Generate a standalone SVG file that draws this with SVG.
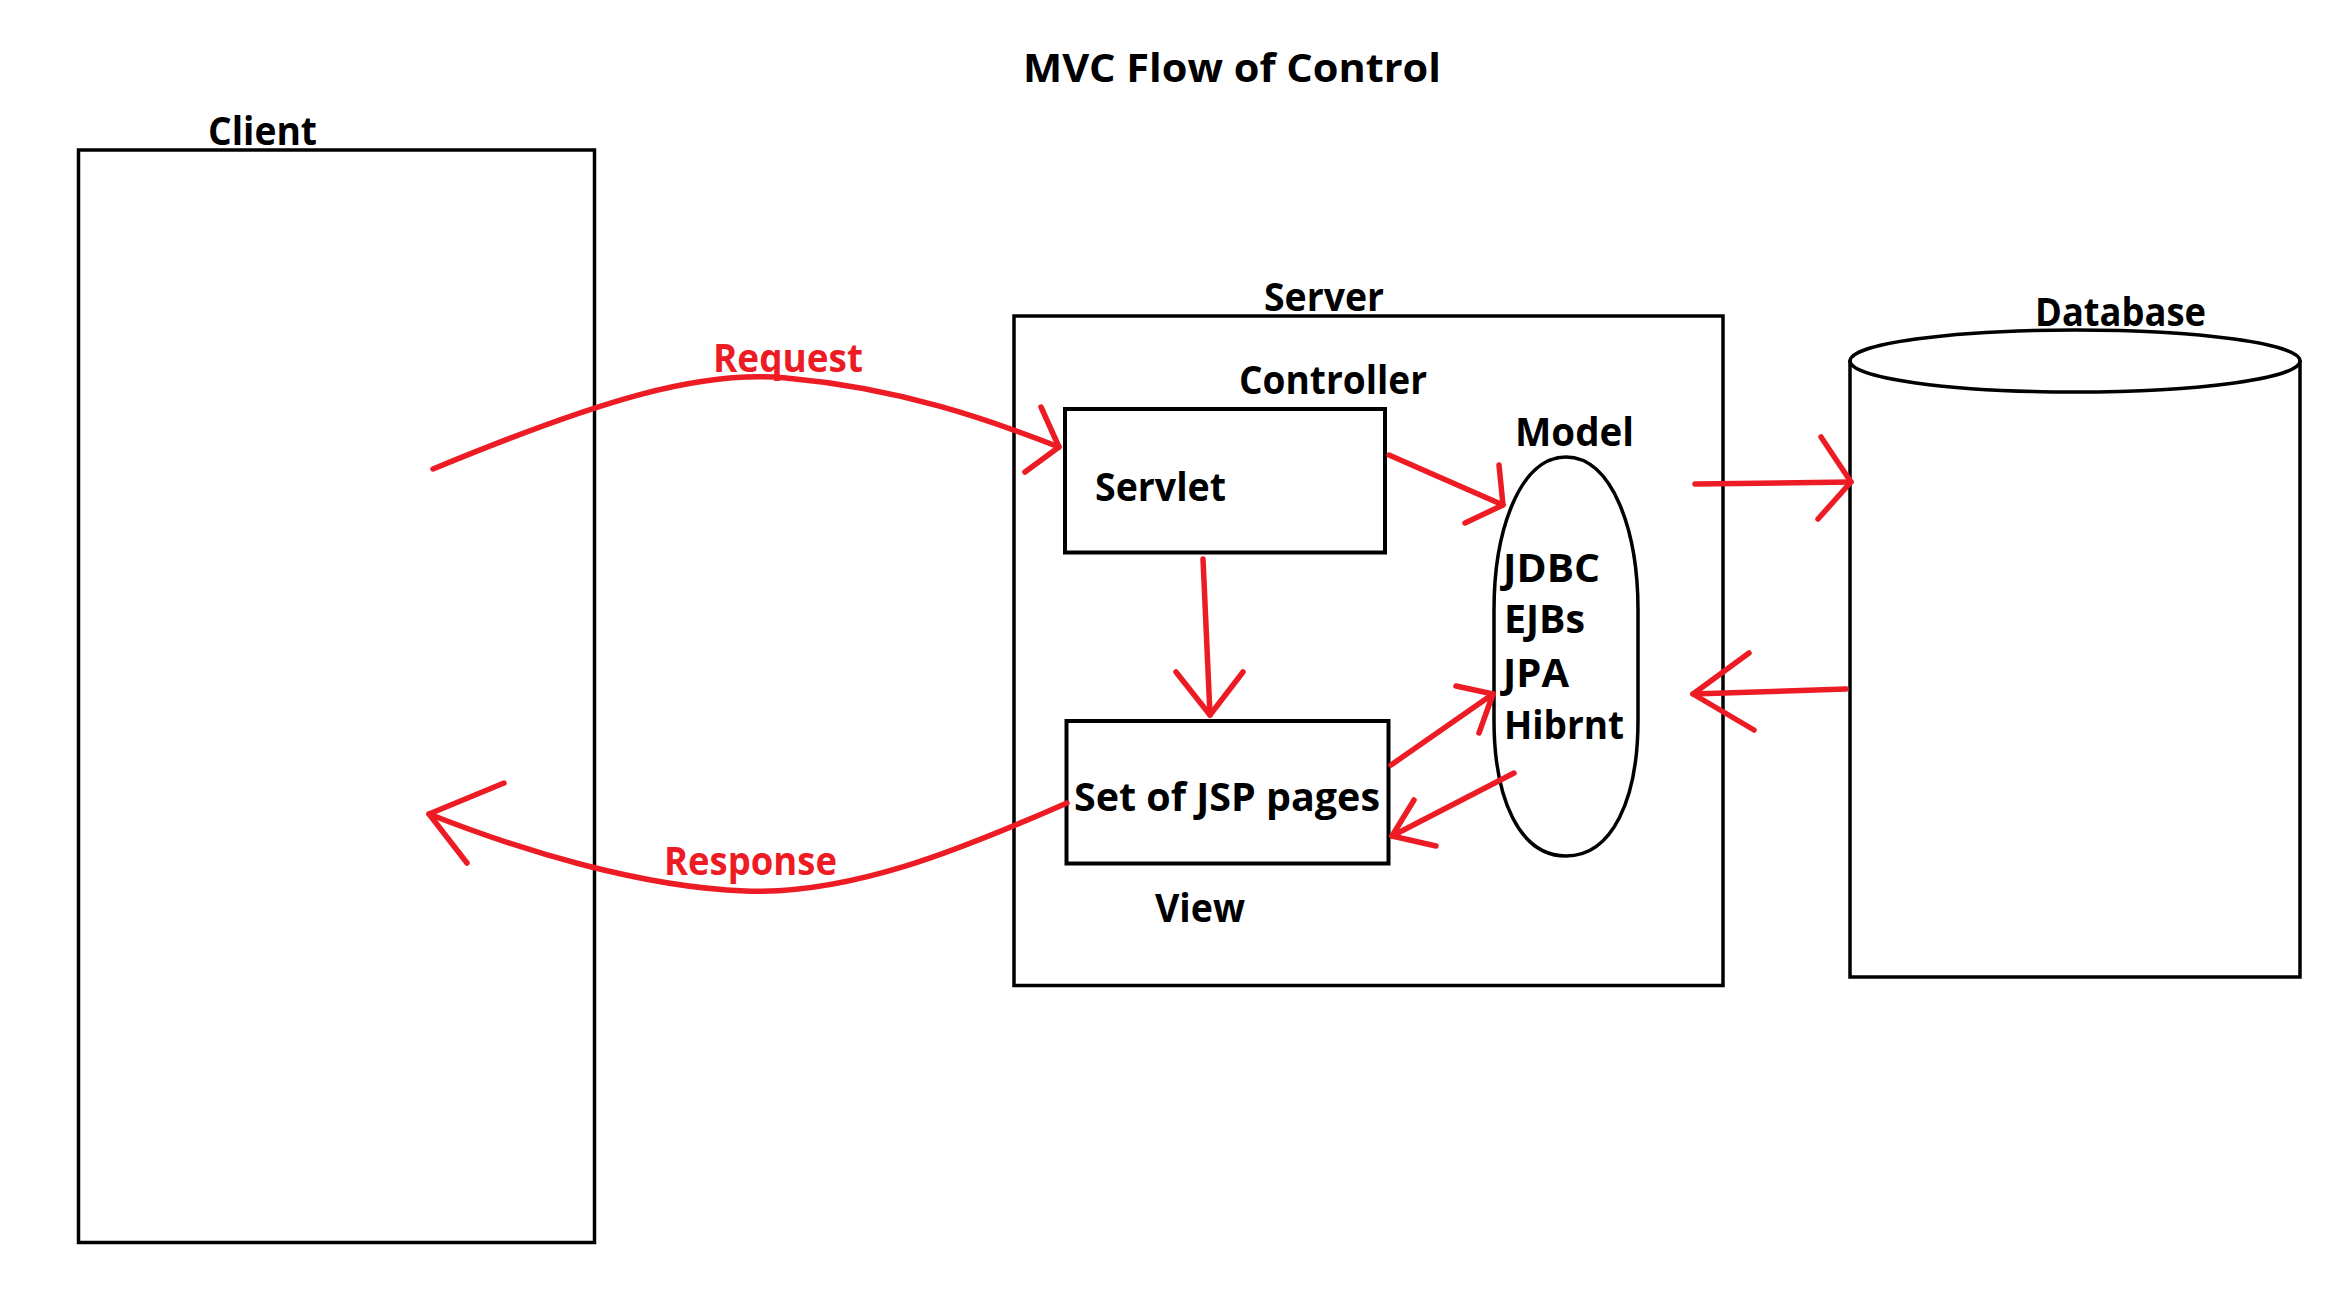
<svg xmlns="http://www.w3.org/2000/svg" width="2325" height="1314" viewBox="0 0 2325 1314">
<style>
.lbl{font-family:"Open Sans","Noto Sans","Liberation Sans",sans-serif;font-weight:700;font-size:40px;fill:#000}
.red{fill:#ED1C24}
.box{fill:none;stroke:#000;stroke-width:3.5}
.inner{fill:none;stroke:#000;stroke-width:4}
.arr{fill:none;stroke:#ED1C24;stroke-width:5.5;stroke-linecap:round;stroke-linejoin:round}
</style>
<rect width="2325" height="1314" fill="#fff"/>
<text class="lbl" x="1023" y="82" font-size="42" textLength="418" lengthAdjust="spacingAndGlyphs">MVC Flow of Control</text>
<g id="client">
<rect class="box" x="78.5" y="150" width="516" height="1092.5"/>
<text class="lbl" x="208" y="145" textLength="109" lengthAdjust="spacingAndGlyphs">Client</text>
</g>
<g id="server">
<rect class="box" x="1014" y="316" width="709" height="669.5"/>
<text class="lbl" x="1264" y="311" textLength="120" lengthAdjust="spacingAndGlyphs">Server</text>
<text class="lbl" x="1239" y="394" textLength="188" lengthAdjust="spacingAndGlyphs">Controller</text>
<text class="lbl" x="1155" y="922" textLength="90" lengthAdjust="spacingAndGlyphs">View</text>
</g>
<g id="servlet">
<rect class="inner" x="1065" y="409" width="320" height="143.5"/>
<text class="lbl" x="1095" y="501" textLength="131" lengthAdjust="spacingAndGlyphs">Servlet</text>
</g>
<g id="jsp">
<rect class="inner" x="1066.5" y="721" width="322" height="142.5"/>
<text class="lbl" x="1074" y="811" textLength="306" lengthAdjust="spacingAndGlyphs">Set of JSP pages</text>
</g>
<g id="model">
<path class="box" d="M1566,457 C1612,457 1638,530 1638,610 L1638,720 C1638,800 1612,856 1566,856 C1520,856 1494,800 1494,720 L1494,610 C1494,530 1520,457 1566,457 Z"/>
<text class="lbl" x="1515" y="446" textLength="119" lengthAdjust="spacingAndGlyphs">Model</text>
<text class="lbl" x="1503" y="582" textLength="97" lengthAdjust="spacingAndGlyphs">JDBC</text>
<text class="lbl" x="1504" y="633" textLength="81" lengthAdjust="spacingAndGlyphs">EJBs</text>
<text class="lbl" x="1503" y="687" textLength="66" lengthAdjust="spacingAndGlyphs">JPA</text>
<text class="lbl" x="1504" y="739" textLength="120" lengthAdjust="spacingAndGlyphs">Hibrnt</text>
</g>
<g id="database">
<path class="box" d="M1850,360 L1850,977 L2300,977 L2300,360"/>
<ellipse class="box" cx="2075" cy="361" rx="225" ry="31"/>
<text class="lbl" x="2035" y="326" textLength="171" lengthAdjust="spacingAndGlyphs">Database</text>
</g>
<g id="connectors">
<path class="arr" d="M433,469 C600,400 700,370 786,378 C900,388 990,420 1059,447"/>
<path class="arr" d="M1041,407 L1059,447 L1025,472"/>
<text class="lbl red" x="713" y="372" textLength="150" lengthAdjust="spacingAndGlyphs">Request</text>
<path class="arr" d="M1067,803 C960,850 850,895 745,891 C640,887 520,850 429,814"/>
<path class="arr" d="M504,783 L429,814 L467,863"/>
<text class="lbl red" x="664" y="875" textLength="173" lengthAdjust="spacingAndGlyphs">Response</text>
<path class="arr" d="M1389,455 L1503,505"/>
<path class="arr" d="M1499,465 L1503,505 L1465,523"/>
<path class="arr" d="M1203,559 L1210,715"/>
<path class="arr" d="M1176,672 L1210,715 L1243,672"/>
<path class="arr" d="M1391,765 L1493,694"/>
<path class="arr" d="M1456,686 L1493,694 L1479,733"/>
<path class="arr" d="M1514,773 L1392,836"/>
<path class="arr" d="M1414,800 L1392,836 L1436,846"/>
<path class="arr" d="M1695,484 L1851,482"/>
<path class="arr" d="M1821,437 L1851,482 L1818,519"/>
<path class="arr" d="M1846,689 L1693,694"/>
<path class="arr" d="M1749,653 L1693,694 L1754,730"/>
</g>
</svg>
